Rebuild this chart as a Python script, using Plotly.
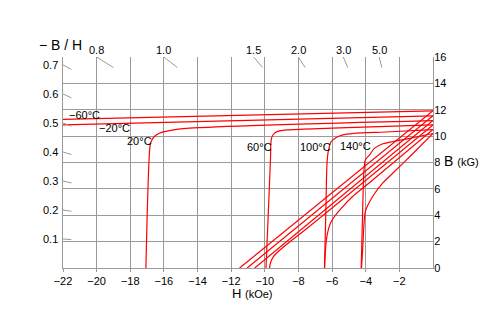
import plotly.graph_objects as go

# ---- data -------------------------------------------------------------
# H in kOe, B / 4piI in kG
temps = ["−60°C", "−20°C", "20°C", "60°C", "100°C", "140°C"]

# intrinsic (4piI) curves
j_m60_h = [-22, 0]
j_m60_b = [11.27, 11.92]
j_m20_h = [-22, 0]
j_m20_b = [10.86, 11.54]
j_20_h = [-17.07, -16.83, -16.76, -16.57, -16.27, -15.67, -14.5, 0]
j_20_b = [0, 9.2, 9.6, 9.97, 10.22, 10.42, 10.6, 11.18]
j_60_h = [-9.93, -9.76, -9.66, -9.6, -9.42, -9.13, -8.53, -6, 0]
j_60_b = [0, 5.2, 8.4, 9.85, 10.23, 10.4, 10.48, 10.6, 10.85]
j_100_h = [-6.45, -6.36, -6.3, -6.22, -6.05, -5.75, -5.36, -4.76, -2.5, 0]
j_100_b = [0, 5, 8.0, 8.9, 9.59, 9.9, 10.1, 10.2, 10.33, 10.5]
j_140_h = [-4.27, -4.17, -4.1, -4.02, -3.77, -3.47, -2.98, -2.38, -1.3, 0]
j_140_b = [0, 5, 7.5, 8.2, 8.58, 9.09, 9.42, 9.59, 9.85, 10.2]

# normal (B) curves
b_m60_h = [-11.5, 0]
b_m60_b = [0, 11.92]
b_m20_h = [-11.05, 0]
b_m20_b = [0, 11.54]
b_20_h = [-10.6, 0]
b_20_b = [0, 11.18]
b_60_h = [-9.72, -9.66, -9.5, -9.2, -8.6, -7.5, 0]
b_60_b = [0, 0.4, 0.85, 1.25, 1.9, 3.0, 10.85]
b_100_h = [-6.45, -6.38, -6.28, -6.1, -5.8, -5.4, -4.8, -3.8, 0]
b_100_b = [0, 1.6, 2.6, 3.4, 4.0, 4.6, 5.4, 6.45, 10.5]
b_140_h = [-4.25, -4.18, -4.1, -4.02, -3.8, -3.47, -2.98, -2.38, -1.3, 0]
b_140_b = [0, 1.5, 3.4, 4.3, 4.95, 5.65, 6.45, 7.2, 8.55, 10.2]

# temperature label anchor points (H, B)
label_h = [-20.7, -18.95, -17.43, -10.32, -6.98, -4.63]
label_b = [11.58, 10.59, 9.64, 9.17, 9.17, 9.25]

# permeance coefficient (-B/H) scale
pc_left = [0.1, 0.2, 0.3, 0.4, 0.5, 0.6, 0.7]
pc_top = [0.8, 1.0, 1.5, 2.0, 3.0, 5.0]

x_ticks = list(range(-22, 0, 2))
x_ticktext = ["−" + str(abs(v)) for v in x_ticks]
y_ticks = list(range(0, 17, 2))

H_MIN, H_MAX, B_MIN, B_MAX = -22, 0, 0, 16

RED = "#ff0000"
GRID = "#9a9a9a"
FONT = "Liberation Sans, Arial, sans-serif"

curves = [
    (j_m60_h, j_m60_b), (j_m20_h, j_m20_b), (j_20_h, j_20_b),
    (j_60_h, j_60_b), (j_100_h, j_100_b), (j_140_h, j_140_b),
    (b_m60_h, b_m60_b), (b_m20_h, b_m20_b), (b_20_h, b_20_b),
    (b_60_h, b_60_b), (b_100_h, b_100_b), (b_140_h, b_140_b),
]

fig = go.Figure()
for hs, bs in curves:
    fig.add_trace(go.Scatter(
        x=hs, y=bs, mode="lines",
        line=dict(color=RED, width=1.2, shape="spline", smoothing=0.9),
        hoverinfo="skip", showlegend=False,
    ))

annotations = []
for t, h, b in zip(temps, label_h, label_b):
    annotations.append(dict(
        x=h, y=b, xref="x", yref="y", text=t, showarrow=False,
        font=dict(size=11, color="black", family=FONT),
    ))

shapes = []
# load-line stubs and labels on the left edge
for r in pc_left:
    shapes.append(dict(type="line", xref="x", yref="y",
                       x0=H_MIN, y0=-H_MIN * r, x1=H_MIN + 0.5, y1=-(H_MIN + 0.5) * r,
                       line=dict(color=GRID, width=1)))
    annotations.append(dict(
        x=H_MIN, y=-H_MIN * r, xref="x", yref="y", text=f"{r:.1f}",
        xanchor="right", yanchor="middle", xshift=-3, showarrow=False,
        font=dict(size=11, color="black", family=FONT),
    ))
# load-line stubs and labels along the top edge
for r in pc_top:
    shapes.append(dict(type="line", xref="x", yref="y",
                       x0=-B_MAX / r, y0=B_MAX, x1=-(B_MAX - 0.8) / r, y1=B_MAX - 0.8,
                       line=dict(color=GRID, width=1)))
    annotations.append(dict(
        x=-B_MAX / r, y=B_MAX, xref="x", yref="y", text=f"{r:.1f}",
        xanchor="center", yanchor="middle", yshift=7, showarrow=False,
        font=dict(size=11, color="black", family=FONT),
    ))

# axis titles
annotations.append(dict(
    x=0, y=1, xref="paper", yref="paper", text="− B / H",
    xanchor="center", yanchor="middle", xshift=-3, yshift=12, showarrow=False,
    font=dict(size=14, color="black", family=FONT),
))
annotations.append(dict(
    x=1, y=8.13, xref="paper", yref="y",
    text="B <span style='font-size:11px'>(kG)</span>",
    xanchor="left", yanchor="middle", xshift=9, showarrow=False,
    font=dict(size=14, color="black", family=FONT),
))
annotations.append(dict(
    x=0.512, y=0, xref="paper", yref="paper",
    text="H <span style='font-size:11px'>(kOe)</span>",
    xanchor="center", yanchor="middle", yshift=-25, showarrow=False,
    font=dict(size=13, color="black", family=FONT),
))

fig.update_layout(
    width=501, height=329,
    margin=dict(l=63, r=68, t=57, b=61),
    paper_bgcolor="white", plot_bgcolor="white",
    annotations=annotations, shapes=shapes,
    xaxis=dict(
        range=[H_MIN, H_MAX], tickvals=x_ticks, ticktext=x_ticktext,
        showgrid=True, gridcolor=GRID, gridwidth=1, zeroline=False,
        showline=True, linecolor=GRID, linewidth=1,
        ticks="outside", ticklen=3, tickcolor=GRID,
        tickfont=dict(size=11, color="black", family=FONT),
    ),
    yaxis=dict(
        range=[B_MIN, B_MAX], tickvals=y_ticks, side="right",
        showgrid=True, gridcolor=GRID, gridwidth=1, zeroline=False,
        showline=True, mirror=True, linecolor=GRID, linewidth=1,
        ticks="", ticklabelstandoff=-2,
        tickfont=dict(size=11, color="black", family=FONT),
    ),
)

fig.write_html("out.html")
